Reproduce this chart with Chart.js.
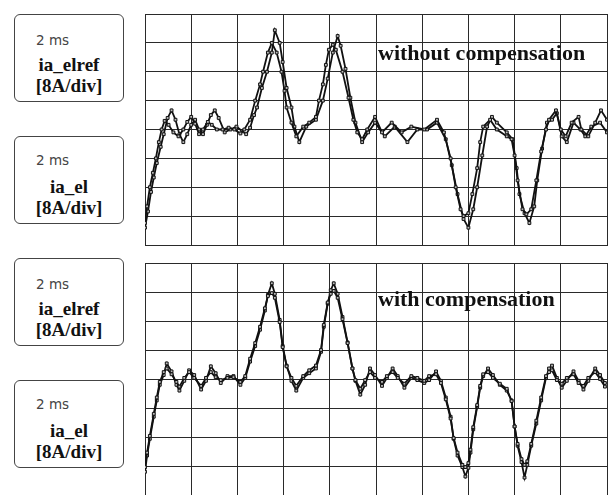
<!DOCTYPE html>
<html>
<head>
<meta charset="utf-8">
<script src="https://cdn.jsdelivr.net/npm/chart.js@4.4.1/dist/chart.umd.min.js"></script>
<style>
  html, body { margin: 0; padding: 0; background: #fff; }
  body { width: 613px; height: 495px; position: relative; overflow: hidden; }
  canvas { position: absolute; }
  .box {
    position: absolute; left: 14px; width: 110px; height: 88px;
    border: 1px solid #444; border-radius: 6px; box-sizing: border-box;
  }
  .ms { position: absolute; left: 21px; font-family: "DejaVu Sans", sans-serif; font-size: 13.5px; color: #444; }
  .lbl { position: absolute; left: 0; width: 108px; text-align: center; font-family: "Liberation Serif", "Times New Roman", serif; font-weight: bold; font-size: 19px; color: #111; line-height: 20px; }
  .note { position: absolute; font-family: "Liberation Serif", "Times New Roman", serif; font-weight: bold; font-size: 22px; color: #111; white-space: nowrap; }
</style>
</head>
<body>
<div class="box" style="top:14px"><div class="ms" style="top:17px">2 ms</div><div class="lbl" style="top:40px">ia_elref</div><div class="lbl" style="top:61px">[8A/div]</div></div>
<div class="box" style="top:136px"><div class="ms" style="top:15px">2 ms</div><div class="lbl" style="top:40px">ia_el</div><div class="lbl" style="top:61px">[8A/div]</div></div>
<div class="box" style="top:258px"><div class="ms" style="top:17px">2 ms</div><div class="lbl" style="top:40px">ia_elref</div><div class="lbl" style="top:61px">[8A/div]</div></div>
<div class="box" style="top:380px"><div class="ms" style="top:15px">2 ms</div><div class="lbl" style="top:40px">ia_el</div><div class="lbl" style="top:61px">[8A/div]</div></div>

<canvas id="top-chart" width="472" height="241" style="left:140px;top:9px"></canvas>
<canvas id="bottom-chart" width="472" height="242" style="left:140px;top:258px"></canvas>

<div class="note" style="left:378px;top:40px">without compensation</div>
<div class="note" style="left:378px;top:286px">with compensation</div>

<script>
// scope settings: 2 ms/div, 8 A/div, 10 x 8 divisions
const timeDivMs = 2;
const ampDivA = 8;
const timeMax = 20;
const ampMax = 32;

// without compensation: ia_elref
const topRefTime = [0,0.09,0.21,0.34,0.47,0.60,0.72,0.85,1.02,1.23,1.45,1.66,1.83,2.0,2.17,2.34,2.51,2.72,2.89,3.11,3.36,3.62,3.87,4.13,4.30,4.55,4.77,4.98,5.11,5.32,5.49,5.70,5.91,6.04,6.13,6.34,6.55,6.85,7.11,7.40,7.53,7.70,7.83,7.96,8.13,8.26,8.55,8.81,9.02,9.19,9.40,9.62,9.96,10.26,10.68,11.11,11.53,12.09,12.64,12.94,13.23,13.45,13.66,13.79,14.0,14.17,14.38,14.51,14.64,14.94,15.23,15.66,15.87,16.0,16.13,16.34,16.51,16.72,16.94,17.15,17.36,17.49,17.79,18.0,18.21,18.47,18.77,18.89,19.19,19.49,19.74,20.0];
const topRef = [-25.9,-21.3,-16.0,-12.0,-8.0,-3.5,0,2.4,1.3,-0.8,-1.9,0,2.1,3.5,1.6,-1.3,0,2.1,1.3,0,0,0.5,0,-1.1,0,2.7,8.0,12.5,16.0,21.3,24.0,21.3,16.0,10.7,6.1,1.9,-1.9,0.8,1.9,3.5,8.0,12.5,17.9,22.1,23.5,22.1,16.0,8.8,2.7,-0.8,-2.7,0,3.5,-0.8,1.9,-0.8,0.8,0,2.7,-0.8,-8.0,-16.0,-22.1,-24.0,-23.2,-17.9,-10.7,-3.5,0.8,2.7,0,-1.9,-2.7,-7.2,-14.1,-22.1,-23.5,-22.1,-14.1,-6.1,0,2.7,5.3,0,-1.9,1.9,3.5,0,-1.9,1.9,5.3,2.7];

// without compensation: ia_el
const topElTime = [0,0.13,0.26,0.38,0.51,0.68,0.81,0.98,1.15,1.32,1.49,1.66,1.83,2.0,2.17,2.34,2.51,2.68,2.85,3.02,3.19,3.45,3.70,3.96,4.21,4.38,4.55,4.72,4.85,5.06,5.28,5.49,5.62,5.83,5.96,6.13,6.34,6.47,6.68,6.98,7.40,7.70,7.91,8.13,8.34,8.47,8.68,8.89,9.11,9.40,9.66,9.96,10.38,10.81,11.36,11.79,12.21,12.64,13.02,13.28,13.53,13.79,14.0,14.21,14.38,14.60,14.81,15.02,15.23,15.66,15.91,16.09,16.21,16.43,16.64,16.85,16.98,17.19,17.40,17.62,17.83,18.04,18.26,18.55,18.85,19.06,19.32,19.70,20.0];
const topEl = [-27.2,-22.7,-17.3,-13.3,-9.3,-4.8,-1.3,3.2,5.3,2.7,-1.3,-3.5,-1.3,1.3,2.7,0,-1.3,1.3,4.0,5.3,3.2,-0.8,0,0.8,-0.5,-1.3,0.5,4.0,6.1,11.5,16.0,21.3,27.5,24.0,18.7,11.5,6.1,0.8,-3.5,0.8,2.7,8.0,14.1,21.3,25.9,23.2,16.8,8.8,1.9,-3.5,-0.8,1.9,-1.9,0.8,-3.5,0,0,1.9,-2.7,-9.9,-17.9,-24.8,-27.2,-22.1,-16.0,-7.2,0.8,3.5,1.9,-0.8,-2.7,-10.7,-17.9,-23.2,-25.9,-21.3,-14.1,-5.3,1.9,2.7,4.5,-1.9,-3.5,1.9,0,-1.9,0.8,1.9,-0.8];

// with compensation: both traces share sample times
const botTime = [0,0.09,0.21,0.38,0.51,0.64,0.81,0.94,1.15,1.36,1.49,1.70,1.91,2.13,2.43,2.64,2.85,3.06,3.28,3.57,3.83,4.13,4.34,4.55,4.77,4.98,5.19,5.32,5.49,5.62,5.83,5.96,6.13,6.34,6.55,6.85,7.11,7.40,7.62,7.74,7.91,8.04,8.17,8.34,8.55,8.77,8.98,9.11,9.32,9.53,9.74,9.96,10.26,10.47,10.72,10.94,11.23,11.53,11.79,12.09,12.30,12.60,12.81,13.02,13.23,13.36,13.53,13.74,13.87,14.0,14.09,14.21,14.38,14.51,14.64,14.85,15.06,15.36,15.66,15.87,16.0,16.13,16.30,16.43,16.55,16.72,16.94,17.15,17.36,17.49,17.62,17.83,18.04,18.26,18.55,18.77,18.98,19.19,19.49,19.70,19.91];
const botRef = [-24.3,-20.3,-15.7,-9.6,-5.1,-0.8,1.9,2.9,1.3,-0.8,-2.1,0.3,1.9,0.3,-1.9,0.3,1.9,0.5,-0.3,0.3,0.5,-0.8,0.8,5.6,9.9,14.4,19.5,22.9,23.7,22.4,15.7,8.8,3.5,0.3,-1.9,0.8,2.4,3.7,8.0,14.9,21.1,23.5,24.3,22.4,16.5,9.9,2.9,-0.3,-2.7,-0.3,1.9,0.3,-0.8,0.8,1.9,0.3,-1.3,0.8,0.3,-0.5,0.8,1.3,-1.1,-5.6,-10.9,-16.3,-20.3,-23.7,-24.3,-23.2,-19.5,-13.3,-7.2,-1.9,1.3,1.9,0.3,-1.3,-2.7,-6.1,-13.1,-17.9,-22.1,-23.7,-22.7,-17.9,-11.5,-5.1,0.8,1.9,2.4,-0.3,-1.3,0.3,1.3,-1.1,-1.9,0.3,1.9,0,-2.1];
const botEl = [-25.6,-21.1,-16.5,-10.4,-5.9,-1.6,1.1,4.3,2.1,-1.6,-3.2,-0.5,2.4,1.1,-2.9,-0.5,3.5,1.6,-1.1,0.8,0.8,-1.6,0.3,4.8,9.1,13.6,18.9,23.2,26.4,23.5,16.3,9.1,3.7,-0.5,-3.2,0.3,1.6,2.9,7.5,14.4,20.8,24.5,26.4,23.5,17.1,10.1,2.9,-0.5,-4.3,-1.6,2.9,1.1,-1.9,0.3,2.9,0.8,-2.4,0.3,-0.3,-1.1,-0.3,2.1,-0.5,-5.1,-10.4,-16.5,-21.1,-24.3,-26.9,-24.5,-20.3,-13.9,-7.7,-2.4,0.8,2.9,1.1,-1.6,-3.2,-5.9,-13.1,-18.4,-22.9,-27.2,-23.7,-18.4,-12.3,-5.9,0.3,2.9,3.7,0.3,-2.4,-0.5,2.1,-0.5,-2.9,-0.5,2.9,1.1,-1.1];

function zip(xs, ys) {
    return xs.map((x, i) => ({ x: x, y: ys[i] }));
}

function trace(label, xs, ys) {
    return {
        label: label,
        data: zip(xs, ys),
        borderColor: '#111',
        borderWidth: 1.8,
        tension: 0,
        pointStyle: 'rect',
        pointRadius: 2,
        pointBackgroundColor: '#bbb',
        pointBorderColor: '#111',
        pointBorderWidth: 1
    };
}

function scopeChart(id, datasets) {
    const grid = { color: '#2a2a2a', lineWidth: 1, drawTicks: false };
    const border = { display: true, color: '#2a2a2a' };
    return new Chart(document.getElementById(id), {
        type: 'line',
        data: { datasets: datasets },
        options: {
            responsive: false,
            animation: false,
            layout: { padding: 1 },
            plugins: { legend: { display: false }, tooltip: { enabled: false } },
            scales: {
                x: {
                    type: 'linear', min: 0, max: timeMax,
                    ticks: { display: false, stepSize: timeDivMs },
                    grid: grid, border: border
                },
                y: {
                    min: -ampMax, max: ampMax,
                    ticks: { display: false, stepSize: ampDivA },
                    grid: grid, border: border
                }
            }
        }
    });
}

scopeChart('top-chart', [trace('ia_elref', topRefTime, topRef), trace('ia_el', topElTime, topEl)]);
scopeChart('bottom-chart', [trace('ia_elref', botTime, botRef), trace('ia_el', botTime, botEl)]);
</script>
</body>
</html>
